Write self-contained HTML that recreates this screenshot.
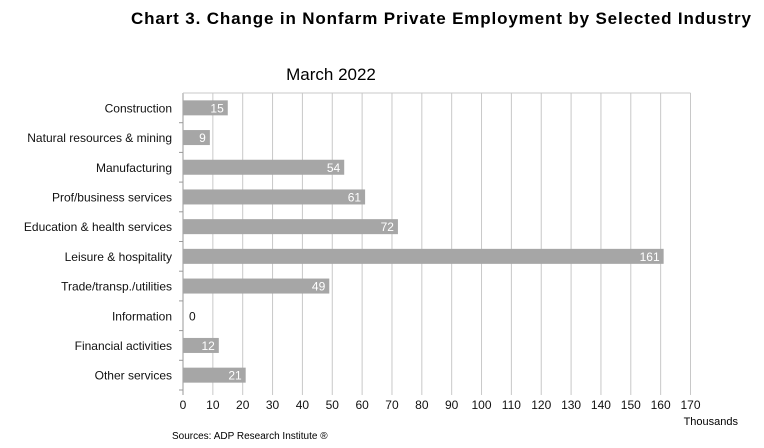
<!DOCTYPE html>
<html><head><meta charset="utf-8"><style>
body{margin:0;background:#fff;width:764px;height:443px;overflow:hidden;font-family:"Liberation Sans",Arial,sans-serif}
</style></head><body>
<svg width="764" height="443" xmlns="http://www.w3.org/2000/svg" font-family="Liberation Sans, Arial, sans-serif">
<text x="751" y="24" text-anchor="end" font-size="17" font-weight="bold" textLength="620" lengthAdjust="spacing">Chart 3. Change in Nonfarm Private Employment by Selected Industry</text>
<text x="331" y="80" text-anchor="middle" font-size="17">March 2022</text>
<g id="grid"></g><g id="bars"></g><g id="ylab"></g><g id="xlab"></g>
<text x="738" y="425" text-anchor="end" font-size="11">Thousands</text>
<text x="172" y="439" font-size="10">Sources: ADP Research Institute ®</text>
</svg>
<script>
const categories=["Construction","Natural resources & mining","Manufacturing","Prof/business services","Education & health services","Leisure & hospitality","Trade/transp./utilities","Information","Financial activities","Other services"];
const values=[15,9,54,61,72,161,49,0,12,21];
const xTicks=[0,10,20,30,40,50,60,70,80,90,100,110,120,130,140,150,160,170];
const NS="http://www.w3.org/2000/svg";
const x0=183,x1=690.5,yTop=93,yBot=390,xmax=170;
const xs=v=>x0+v/xmax*(x1-x0);
const band=(yBot-yTop)/categories.length;
const yc=i=>yTop+band*(i+0.5);
function mk(t,a,p){const e=document.createElementNS(NS,t);for(const k in a)e.setAttribute(k,a[k]);if(p)document.getElementById(p).appendChild(e);return e;}
xTicks.forEach(t=>{
 const g=mk('line',{x1:xs(t),x2:xs(t),y1:yTop,y2:yBot+5,stroke:t===0?'#999':'#c8c8c8','stroke-width':1},'grid');
 
 
 const l=mk('text',{x:xs(t),y:yBot+19,'text-anchor':'middle','font-size':12,fill:'#111'},'xlab');
 l.textContent=t;
 
 
});
const tl=mk('line',{x1:x0,x2:x1,y1:yTop,y2:yTop,stroke:'#c8c8c8'},'grid');


categories.forEach((c,i)=>{
 const y=yc(i);
 const tk=mk('line',{x1:x0-4,x2:x0,y1:yTop+band*(i+1),y2:yTop+band*(i+1),stroke:'#999'},'grid');
 
 
 const b=mk('rect',{x:x0,y:y-7.5,width:xs(values[i])-x0,height:15,fill:'#a6a6a6'},'bars');
 
 
 const v=values[i];
 const vl=mk('text',{'font-size':12,y:y+4.5},'bars');
 if(v>5){vl.setAttribute('x',xs(v)-4);vl.setAttribute('text-anchor','end');vl.setAttribute('fill','#fff');}
 else{vl.setAttribute('x',xs(v)+6);vl.setAttribute('fill','#111');}
 vl.textContent=v;
 
 
 const yl=mk('text',{x:x0-11,y:y+4.5,'text-anchor':'end','font-size':12,fill:'#111'},'ylab');
 yl.textContent=c;
 
 
});
</script>
</body></html>
